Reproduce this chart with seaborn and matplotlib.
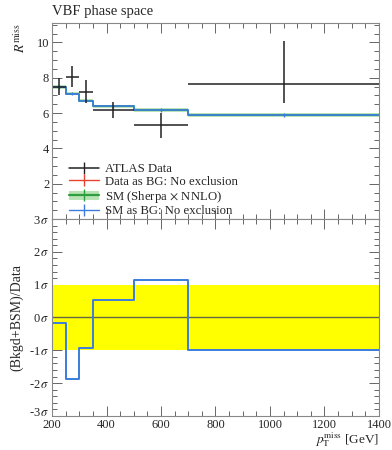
import numpy as np
import pandas as pd
import matplotlib
matplotlib.use("Agg")
import matplotlib.pyplot as plt
import matplotlib.transforms as mtransforms
import seaborn as sns
from matplotlib.lines import Line2D
from matplotlib.patches import Patch
from matplotlib.ticker import MultipleLocator

# bin edges in pT miss [GeV]
edges = [200, 250, 300, 350, 500, 700, 1400]

# ATLAS data
data_y = [7.5, 8.05, 7.2, 6.17, 5.3, 7.64]
data_err_lo = [0.5, 0.6, 0.65, 0.45, 0.7, 1.05]
data_err_hi = [0.5, 0.6, 0.65, 0.45, 0.7, 2.45]

# SM prediction (Sherpa x NNLO) and its band
sm_y = [7.48, 7.1, 6.7, 6.38, 6.18, 5.88]
sm_err = [0.1, 0.1, 0.1, 0.1, 0.1, 0.1]

# SM as BG, significance in the ratio panel
sig_y = [-0.18, -1.88, -0.92, 0.54, 1.15, -0.98]

sns.set_theme(style="ticks")
plt.rcParams["font.family"] = ["Liberation Serif", "DejaVu Serif"]
plt.rcParams["mathtext.fontset"] = "stix"
plt.rcParams["xtick.direction"] = "in"
plt.rcParams["ytick.direction"] = "in"

centers = [(a + b) / 2 for a, b in zip(edges[:-1], edges[1:])]
half_w = [(b - a) / 2 for a, b in zip(edges[:-1], edges[1:])]

steps_sm = pd.DataFrame({"x": edges, "y": sm_y + [sm_y[-1]]})
steps_sig = pd.DataFrame({"x": edges, "y": sig_y + [sig_y[-1]]})
sm_lo = [v - e for v, e in zip(sm_y, sm_err)]
sm_hi = [v + e for v, e in zip(sm_y, sm_err)]

blue = "#3b7ddd"
green = "#2e9e3e"
band = "#b9e3b4"

fig = plt.figure(figsize=(3.92, 4.5), dpi=100)
ax = fig.add_axes([0.1327, 0.5133, 0.834, 0.4356])
ax_r = fig.add_axes([0.1327, 0.0756, 0.834, 0.4377], sharex=ax)


def style_ticks(a):
    a.tick_params(which="both", top=True, right=True, labelsize=9,
                  color="#666666", width=0.7, pad=2)
    a.tick_params(which="major", length=7)
    a.tick_params(which="minor", length=3.5)
    for s in a.spines.values():
        s.set_color("#888888")
        s.set_linewidth(0.8)


# top panel
ax.fill_between(edges, sm_lo + [sm_lo[-1]], sm_hi + [sm_hi[-1]], step="post",
                color=band, linewidth=0)
sns.lineplot(data=steps_sm, x="x", y="y", ax=ax, drawstyle="steps-post",
             color=green, linewidth=1.2)
sns.lineplot(data=steps_sm, x="x", y="y", ax=ax, drawstyle="steps-post",
             color=blue, linewidth=1.2)
ax.errorbar(centers, sm_y, yerr=sm_err, fmt="none", ecolor=blue, elinewidth=1.0)
ax.errorbar(centers, data_y, xerr=half_w, yerr=[data_err_lo, data_err_hi],
            fmt="none", ecolor="#222222", elinewidth=1.1, capsize=0)

ax.set_xlim(200, 1400)
ax.set_ylim(0, 11.1)
ax.xaxis.set_major_locator(MultipleLocator(200))
ax.xaxis.set_minor_locator(MultipleLocator(50))
ax.yaxis.set_major_locator(MultipleLocator(2))
ax.yaxis.set_minor_locator(MultipleLocator(0.5))
style_ticks(ax)
ax.tick_params(labelbottom=False)
ax.set_yticks([2, 4, 6, 8, 10])
ax.set_xlabel("")
ax.set_ylabel(r"$R^{\mathrm{miss}}$", loc="top", fontsize=10, labelpad=6)
ax.text(0.0, 1.025, "VBF phase space", transform=ax.transAxes, fontsize=10.5,
        ha="left", va="bottom")

handles = [
    Line2D([], [], color="#222222", marker="|", markersize=8, linewidth=1.1),
    Line2D([], [], color="#e8422f", marker="|", markersize=8, linewidth=1.0),
    (Patch(facecolor=band, edgecolor="none"),
     Line2D([], [], color=green, marker="|", markersize=8, linewidth=1.6)),
    Line2D([], [], color=blue, marker="|", markersize=8, linewidth=1.0),
]
labels = ["ATLAS Data", "Data as BG: No exclusion",
          r"SM (Sherpa $\times$ NNLO)", "SM as BG: No exclusion"]
ax.legend(handles, labels, loc="upper left", bbox_to_anchor=(0.025, 0.33),
          frameon=False, fontsize=9.2, handlelength=2.3, handletextpad=0.5,
          labelspacing=0.05, borderpad=0.2)

# ratio panel
ax_r.axhspan(-1, 1, color="#ffff00", linewidth=0)
ax_r.axhline(0, color="#666644", linewidth=1.0)
sns.lineplot(data=steps_sig, x="x", y="y", ax=ax_r, drawstyle="steps-post",
             color=blue, linewidth=1.4)
ax_r.set_ylim(-3, 3)
ax_r.yaxis.set_major_locator(MultipleLocator(1))
ax_r.yaxis.set_minor_locator(MultipleLocator(0.2))
ticks = [-3, -2, -1, 0, 1, 2, 3]
ax_r.set_yticks(ticks)
ax_r.set_yticklabels([f"{t}$\\,\\sigma$" for t in ticks])
style_ticks(ax_r)
# nudge the bottom sigma label up a little so it clears the "200"
lowest = ax_r.get_yticklabels()[0]
lowest.set_transform(lowest.get_transform()
                     + mtransforms.ScaledTranslation(0, 3 / 72, fig.dpi_scale_trans))
ax_r.set_ylabel("(Bkgd+BSM)/Data", fontsize=10)
ax_r.set_xlabel(r"$p_{\mathrm{T}}^{\mathrm{miss}}$ [GeV]", loc="right",
                fontsize=9.5, labelpad=-0.5)

fig.savefig("out.png", dpi=100)
